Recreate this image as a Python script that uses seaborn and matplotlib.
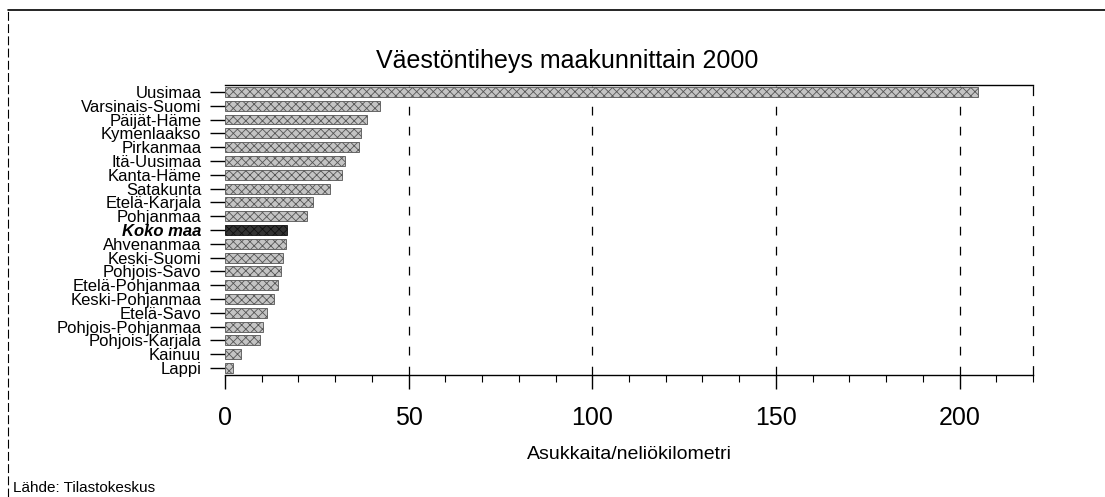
import matplotlib
matplotlib.use("Agg")
import matplotlib.pyplot as plt
import seaborn as sns
import pandas as pd
from matplotlib.lines import Line2D
from matplotlib.ticker import MultipleLocator

regions = ["Uusimaa", "Varsinais-Suomi", "Päijät-Häme", "Kymenlaakso", "Pirkanmaa",
           "Itä-Uusimaa", "Kanta-Häme", "Satakunta", "Etelä-Karjala", "Pohjanmaa",
           "Koko maa", "Ahvenanmaa", "Keski-Suomi", "Pohjois-Savo", "Etelä-Pohjanmaa",
           "Keski-Pohjanmaa", "Etelä-Savo", "Pohjois-Pohjanmaa", "Pohjois-Karjala",
           "Kainuu", "Lappi"]
density = [205.0, 42.2, 38.7, 37.0, 36.5, 32.7, 31.9, 28.6, 24.0, 22.4,
           16.9, 16.6, 15.8, 15.2, 14.4, 13.4, 11.4, 10.3, 9.5, 4.3, 2.1]
x_ticks = [0, 50, 100, 150, 200]

df = pd.DataFrame({"region": regions, "density": density})

sns.set_style("white")
plt.rcParams["font.family"] = ["Liberation Sans", "DejaVu Sans"]
plt.rcParams["text.color"] = "black"
plt.rcParams["xtick.color"] = "black"
plt.rcParams["ytick.color"] = "black"
plt.rcParams["axes.labelcolor"] = "black"
plt.rcParams["hatch.linewidth"] = 0.6

fig = plt.figure(figsize=(11.05, 4.97), dpi=100)
ax = fig.add_axes([0.2036, 0.2455, 0.7313, 0.5835])

colors = {r: ("#333333" if r == "Koko maa" else "#c4c4c4") for r in regions}
sns.barplot(data=df, x="density", y="region", hue="region", palette=colors,
            legend=False, width=0.72, orient="h", ax=ax, saturation=1)

for p, r in zip(ax.patches, regions):
    p.set_edgecolor("#555555" if r != "Koko maa" else "#111111")
    p.set_linewidth(0.6)
    p.set_hatch("xxxx")

ax.set_xlim(0, 220)
ax.set_ylim(20.5, -0.5)
ax.set_xticks(x_ticks)
ax.xaxis.set_minor_locator(MultipleLocator(10))
ax.tick_params(axis="x", which="major", direction="out", length=10, width=1,
               labelsize=18, pad=12, bottom=True)
ax.tick_params(axis="x", which="minor", direction="out", length=5, width=0.8, bottom=True)
ax.tick_params(axis="y", direction="out", length=11, width=1, labelsize=12, pad=6, left=True)

for x in x_ticks[1:]:
    ax.axvline(x, color="black", lw=0.9, ls=(0, (7, 9)), zorder=0)

for s in ["top", "bottom"]:
    ax.spines[s].set_visible(True)
    ax.spines[s].set_color("black")
    ax.spines[s].set_linewidth(1)
ax.spines["left"].set_visible(False)
ax.spines["right"].set_linestyle((0, (7, 9)))
ax.spines["right"].set_color("black")
ax.spines["right"].set_linewidth(0.9)

for lbl in ax.get_yticklabels():
    if lbl.get_text() == "Koko maa":
        lbl.set_fontweight("bold")
        lbl.set_fontstyle("italic")

ax.set_ylabel("")
ax.set_xlabel("Asukkaita/neliökilometri", fontsize=14, labelpad=12)
fig.text(0.513, 0.878, "Väestöntiheys maakunnittain 2000", fontsize=18,
         ha="center", va="center")

fig.text(0.012, 0.004, "Lähde: Tilastokeskus", fontsize=11, ha="left", va="bottom")

# outer frame of the original figure
fig.add_artist(Line2D([0.007, 1.0], [0.98, 0.98], color="black", lw=1.2))
fig.add_artist(Line2D([0.007, 0.007], [0.0, 0.98], color="black", lw=0.8, ls=(0, (8, 3))))

fig.savefig("out.png", dpi=100)
